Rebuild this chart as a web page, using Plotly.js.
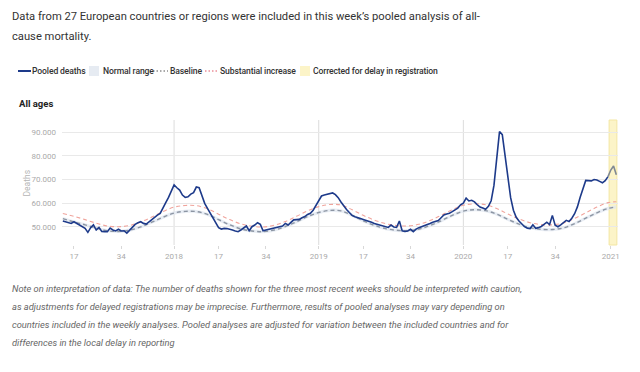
<!DOCTYPE html>
<html>
<head>
<meta charset="utf-8">
<script src="https://cdn.plot.ly/plotly-3.0.1.min.js"></script>
<style>
  html, body { margin:0; padding:0; background:#fff; }
  #wrap { position:relative; width:640px; height:372px; overflow:hidden; font-family: Roboto, "Noto Sans", sans-serif; }
  #chart { position:absolute; left:0; top:0; width:640px; height:372px; }
  .abs { position:absolute; white-space:nowrap; }
  #title { left:12px; top:7px; font-size:11.2px; line-height:20px; color:#333; }
  .lg { font-size:8.6px; letter-spacing:-0.12px; font-weight:500; color:#333; line-height:12px; top:65px; }
  .ic { top:64px; }
  #sub { left:19px; top:98px; font-size:9.5px; font-weight:700; color:#222; }
  #note { left:12px; top:280px; font-size:9.3px; font-style:italic; line-height:18px; color:#666; }
</style>
</head>
<body>
<div id="wrap">
  <div id="chart"></div>
  <div id="title" class="abs">Data from 27 European countries or regions were included in this week’s pooled analysis of all-<br>cause mortality.</div>

  <svg class="abs ic" style="left:17px" width="16" height="14"><line x1="1" y1="7" x2="14" y2="7" stroke="#1d3a8a" stroke-width="2"/></svg>
  <span class="abs lg" style="left:32px">Pooled deaths</span>
  <svg class="abs ic" style="left:89px" width="12" height="14"><rect x="0" y="2" width="10" height="10" fill="#e6ebf2"/></svg>
  <span class="abs lg" style="left:103px">Normal range</span>
  <svg class="abs ic" style="left:153px" width="16" height="14"><line x1="0" y1="7" x2="15" y2="7" stroke="#555" stroke-width="1" stroke-dasharray="1.5,2"/></svg>
  <span class="abs lg" style="left:170px">Baseline</span>
  <svg class="abs ic" style="left:205px" width="14" height="14"><line x1="0" y1="7" x2="13" y2="7" stroke="#e05565" stroke-width="1" stroke-dasharray="1.5,2"/></svg>
  <span class="abs lg" style="left:220px">Substantial increase</span>
  <svg class="abs ic" style="left:300px" width="12" height="14"><rect x="0" y="2" width="10" height="10" fill="#fcf4c8"/></svg>
  <span class="abs lg" style="left:313px">Corrected for delay in registration</span>

  <div id="sub" class="abs">All ages</div>

  <div id="note" class="abs">Note on interpretation of data: The number of deaths shown for the three most recent weeks should be interpreted with caution,<br>as adjustments for delayed registrations may be imprecise. Furthermore, results of pooled analyses may vary depending on<br>countries included in the weekly analyses. Pooled analyses are adjusted for variation between the included countries and for<br>differences in the local delay in reporting</div>
</div>

<script>
// Weekly pooled deaths, 2017 week 13 to 2021 week 3
const deaths2017 = [52400,52100,51800,51400,52100,51400,51000,50300,49300,47600,49600,50800,48600,49700,48000,47900,47900,49400,48600,48200,48900,48200,48300,47300,48600,50000,51000,51700,52100,51400,51100,52100,53100,54200,54900,55600,58200,60200,62400,65300];
const deaths2018 = [67700,66500,65500,63400,62400,62700,63800,64400,66800,66500,63500,59900,57800,55900,54000,52100,49600,49000,49300,49200,49000,48600,48200,47900,48600,49600,50300,48300,50000,50700,51700,51000,48300,48600,48900,49000,49300,49600,49800,50300,51400,50700,51800,52900,53000,53100,53800,54300,55200,55700,57000,59000];
const deaths2019 = [61300,63000,63400,63600,63800,64300,63600,62300,60500,58800,57300,56000,54800,54200,54000,53500,53100,52800,52400,51900,51400,51000,50700,50200,49900,49700,50700,49900,49700,52400,48300,48000,48200,48900,47900,49000,49600,50000,50400,50700,51400,51900,52300,52600,53800,55000,55400,55700,56400,57100,57900,59300];
const deaths2020 = [60000,62100,60900,61200,60500,59300,58300,57900,57400,58600,61000,67500,78500,90300,89000,80000,70500,62300,57000,54000,52400,51000,50000,49400,49200,50800,49300,49600,50100,51000,51900,50900,54800,50600,50000,50800,51600,52700,52200,53600,55500,58400,62500,66300,69600,69500,69400,70000,69800,69200,68600,69500,71200];
const deaths2021 = [74000,75700,72000];

// Baseline curves sampled every 4 weeks (week index from 2017 w13)
const refIndex     = [0,4,8,12,16,20,24,28,32,36,40,44,48,52,56,60,64,68,72,76,80,84,88,92,96,100,104,108,112,116,120,124,128,132,136,140,144,148,152,156,160,164,168,172,176,180,184,188,192,196,199];
const baseline     = [53400,52000,50800,49400,48300,48000,48500,49900,51900,54000,55800,56500,56400,55200,53000,50800,49100,48200,47900,48600,50100,52100,54300,56000,56900,56700,54800,52500,50600,49200,48500,48300,49000,50500,52500,54800,56600,57200,56800,55300,53100,51100,49600,48900,48800,49500,51300,53600,55900,57700,58400];
const substantial  = [55600,54400,53000,51500,50300,50000,50500,52000,54100,56400,58300,59000,58900,57600,55300,53000,51200,50200,49900,50600,52200,54400,56700,58500,59400,59200,57200,54800,52800,51300,50500,50300,51000,52600,54800,57200,59100,59700,59300,57700,55400,53300,51700,50900,50800,51600,53500,55900,58300,60200,60600];
const normalLow    = [52700,51300,50100,48700,47600,47300,47800,49200,51200,53300,55100,55800,55700,54500,52300,50100,48400,47500,47200,47900,49400,51400,53600,55300,56200,56000,54100,51800,49900,48500,47800,47600,48300,49800,51800,54100,55900,56500,56100,54600,52400,50400,48900,48200,48100,48800,50600,52900,55200,57000,57700];
const normalHigh   = [54100,52700,51500,50100,49000,48700,49200,50600,52600,54700,56500,57200,57100,55900,53700,51500,49800,48900,48600,49300,50800,52800,55000,56700,57600,57400,55500,53200,51300,49900,49200,49000,49700,51200,53200,55500,57300,57900,57500,56000,53800,51800,50300,49600,49500,50200,52000,54300,56600,58400,59100];

// Axis ticks (week index) and labels
const tickIndex  = [4,21,40,56,73,92,108,125,144,160,177,197];
const tickLabels = ["17","34","2018","17","34","2019","17","34","2020","17","34","2021"];
const yearStarts = [40,92,144];
const correctedWeeks = [197,199]; // last three weeks (2021 w1-w3)

const deaths = [].concat(deaths2017, deaths2018, deaths2019, deaths2020, deaths2021);
const idx = deaths.map((_, i) => i);
const nRecent = deaths2021.length;
const cut = deaths.length - nRecent - 1;

const traces = [
  {x: refIndex, y: normalLow, type:'scatter', mode:'lines', line:{width:0, shape:'spline'}, hoverinfo:'skip', showlegend:false},
  {x: refIndex, y: normalHigh, type:'scatter', mode:'lines', fill:'tonexty', fillcolor:'rgba(222,230,240,0.7)', line:{width:0, shape:'spline'}, hoverinfo:'skip', showlegend:false},
  {x: refIndex, y: baseline, type:'scatter', mode:'lines', line:{color:'#8c95a3', width:1.4, dash:'4px,3px', shape:'spline'}, showlegend:false},
  {x: refIndex, y: substantial, type:'scatter', mode:'lines', line:{color:'#f0a49c', width:1.1, dash:'4px,3px', shape:'spline'}, showlegend:false},
  {x: idx.slice(0, cut + 1), y: deaths.slice(0, cut + 1), type:'scatter', mode:'lines', line:{color:'#1d3a8a', width:1.6}, showlegend:false},
  {x: idx.slice(cut), y: deaths.slice(cut), type:'scatter', mode:'lines', line:{color:'#7f8894', width:1.6}, showlegend:false}
];

const shapes = yearStarts.map(v => ({type:'line', xref:'x', yref:'paper', x0:v, x1:v, y0:0, y1:1, line:{color:'#dcdcdc', width:1}, layer:'below'}));
shapes.push({type:'rect', xref:'x', yref:'paper', x0:correctedWeeks[0]-0.6, x1:correctedWeeks[1]+0.2, y0:0, y1:1, fillcolor:'#fcf4c8', line:{color:'#f3e6a2', width:1}, layer:'below'});

const layout = {
  width:640, height:372,
  margin:{l:62, r:22, t:120, b:127, pad:0},
  paper_bgcolor:'rgba(0,0,0,0)', plot_bgcolor:'rgba(0,0,0,0)',
  separators:',.',
  showlegend:false,
  font:{family:'Roboto, "Noto Sans", sans-serif', color:'#aaa', size:8},
  xaxis:{range:[-0.3,199.6], tickmode:'array', tickvals:tickIndex, ticktext:tickLabels, showgrid:false, zeroline:false, showline:false,
         ticks:'outside', ticklen:3, tickcolor:'#d8d8d8', tickfont:{size:8, color:'#aaa'}, fixedrange:true},
  yaxis:{range:[42250,95200], tickmode:'array', tickvals:[50000,60000,70000,80000,90000], tickformat:',d', showgrid:true, gridcolor:'#e9e9e9', gridwidth:1,
         zeroline:false, showline:false, ticks:'', ticklabelstandoff:5, tickfont:{size:8, color:'#aaa'}, fixedrange:true},
  annotations:[{text:'Deaths', xref:'paper', yref:'paper', x:-0.063, y:0.5, xanchor:'center', yanchor:'middle', textangle:-90, showarrow:false, font:{size:8.5, color:'#b5b5b5'}}],
  shapes:shapes
};

Plotly.newPlot('chart', traces, layout, {displayModeBar:false, staticPlot:true});
</script>
</body>
</html>
